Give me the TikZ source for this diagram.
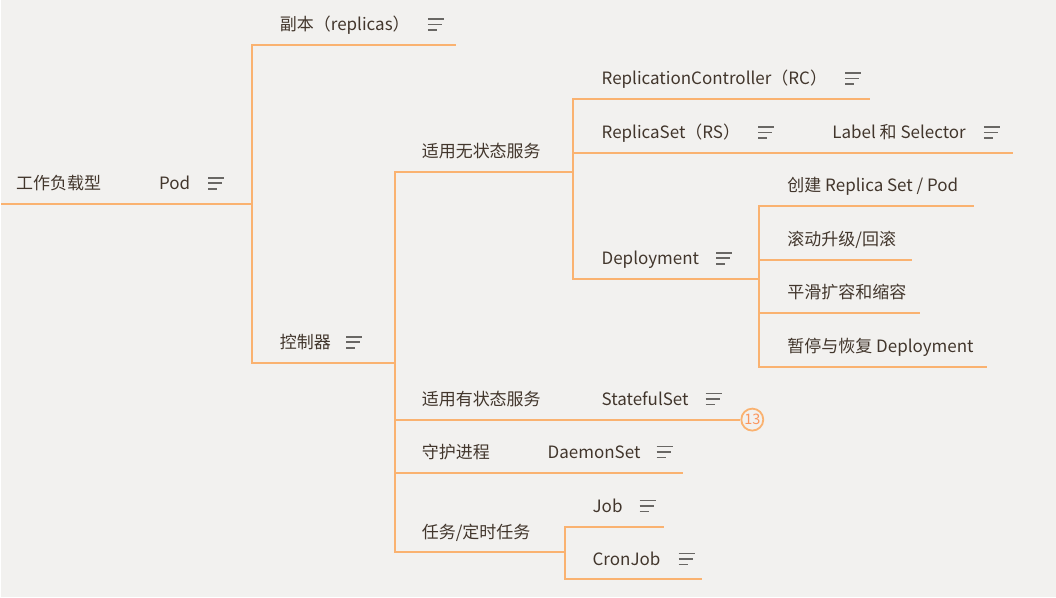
\documentclass[tikz,border=0pt]{standalone}
\usepackage{fontspec}
\setmainfont{Noto Sans CJK SC}
\usetikzlibrary{positioning}

\definecolor{bgpaper}{RGB}{242,241,239}
\definecolor{branchline}{RGB}{250,178,112}
\definecolor{topictext}{RGB}{66,54,44}
\definecolor{notegray}{RGB}{105,103,100}

\tikzset{
  topic/.style={anchor=base west,inner sep=0pt,text=topictext,font=\fontsize{17}{19}\selectfont},
  branch/.style={draw=branchline,line width=2pt},
  counter/.style={circle,draw=branchline,line width=1.8pt,fill=bgpaper,inner sep=0pt,
    minimum size=22pt,text=branchline!85!red,font=\fontsize{14.5}{15}\selectfont},
  notes/.pic={
    \draw[notegray,line width=1.7pt] (0,-12) -- (16,-12) (0,-6.5) -- (14,-6.5) (0,-1) -- (9,-1);
  }
}

\begin{document}
\begin{tikzpicture}[x=1pt,y=-1pt]
\fill[bgpaper] (0,0) rectangle (1056,598);

% root and first level
\coordinate (root-w) at (0,204);
\node[topic] (root) at (15,190) {工作负载型};
\node[topic] (pod) at (158,190) {Pod};
\pic at ([xshift=18pt]pod.base east) {notes};
\coordinate (pod-e) at (251,204);

\node[topic] (rep) at (279,31) {副本（replicas）};
\pic at ([xshift=18pt]rep.base east) {notes};
\coordinate (rep-e) at (455,45);

\node[topic] (ctl) at (279,349) {控制器};
\pic at ([xshift=15pt]ctl.base east) {notes};
\coordinate (ctl-e) at (394,363);

% stateless services
\node[topic] (sl) at (421,158) {适用无状态服务};
\coordinate (sl-e) at (573,172);

\node[topic] (rc) at (601,85) {ReplicationController（RC）};
\pic at ([xshift=18pt]rc.base east) {notes};
\coordinate (rc-e) at (870,99);

\node[topic] (rs) at (601,139) {ReplicaSet（RS）};
\pic at ([xshift=18pt]rs.base east) {notes};
\coordinate (rs-e) at (805,153);

\node[topic] (lbl) at (832,139) {Label 和 Selector};
\pic at ([xshift=18pt]lbl.base east) {notes};
\coordinate (lbl-e) at (1013,153);

\node[topic] (dep) at (601,265) {Deployment};
\pic at ([xshift=17pt]dep.base east) {notes};
\coordinate (dep-e) at (759,279);

\node[topic] (mk) at (787,192) {创建 Replica Set / Pod};
\coordinate (mk-e) at (974,206);
\node[topic] (roll) at (787,246) {滚动升级/回滚};
\coordinate (roll-e) at (912,260);
\node[topic] (scl) at (787,299) {平滑扩容和缩容};
\coordinate (scl-e) at (920,313);
\node[topic] (pause) at (787,353) {暂停与恢复 Deployment};
\coordinate (pause-e) at (987,367);

% stateful, daemon, jobs
\node[topic] (sf) at (421,406) {适用有状态服务};
\coordinate (sf-e) at (575,420);
\node[topic] (sts) at (601,406) {StatefulSet};
\pic at ([xshift=17pt]sts.base east) {notes};
\node[counter] (cnt) at (752,420) {13};

\node[topic] (gd) at (421,459) {守护进程};
\coordinate (gd-e) at (520,473);
\node[topic] (ds) at (547,459) {DaemonSet};
\pic at ([xshift=16pt]ds.base east) {notes};
\coordinate (ds-e) at (683,473);

\node[topic] (task) at (421,539) {任务/定时任务};
\coordinate (task-e) at (565,553);
\node[topic] (job) at (592,513) {Job};
\pic at ([xshift=17pt]job.base east) {notes};
\coordinate (job-e) at (664,527);
\node[topic] (cron) at (592,566) {CronJob};
\pic at ([xshift=18pt]cron.base east) {notes};
\coordinate (cron-e) at (702,580);

% branches
\draw[branch] (root-w) -- (pod-e);
\draw[branch] (pod-e) |- (rep-e);
\draw[branch] (pod-e) |- (ctl-e);
\draw[branch] (ctl-e) |- (sl-e);
\draw[branch] (sl-e) |- (rc-e);
\draw[branch] (sl-e) |- (rs-e) -- (lbl-e);
\draw[branch] (sl-e) |- (dep-e);
\draw[branch] (dep-e) |- (mk-e);
\draw[branch] (dep-e) |- (roll-e);
\draw[branch] (dep-e) |- (scl-e);
\draw[branch] (dep-e) |- (pause-e);
\draw[branch] (ctl-e) |- (sf-e) -- (cnt);
\draw[branch] (ctl-e) |- (gd-e) -- (ds-e);
\draw[branch] (ctl-e) |- (task-e);
\draw[branch] (task-e) |- (job-e);
\draw[branch] (task-e) |- (cron-e);
\end{tikzpicture}
\end{document}
